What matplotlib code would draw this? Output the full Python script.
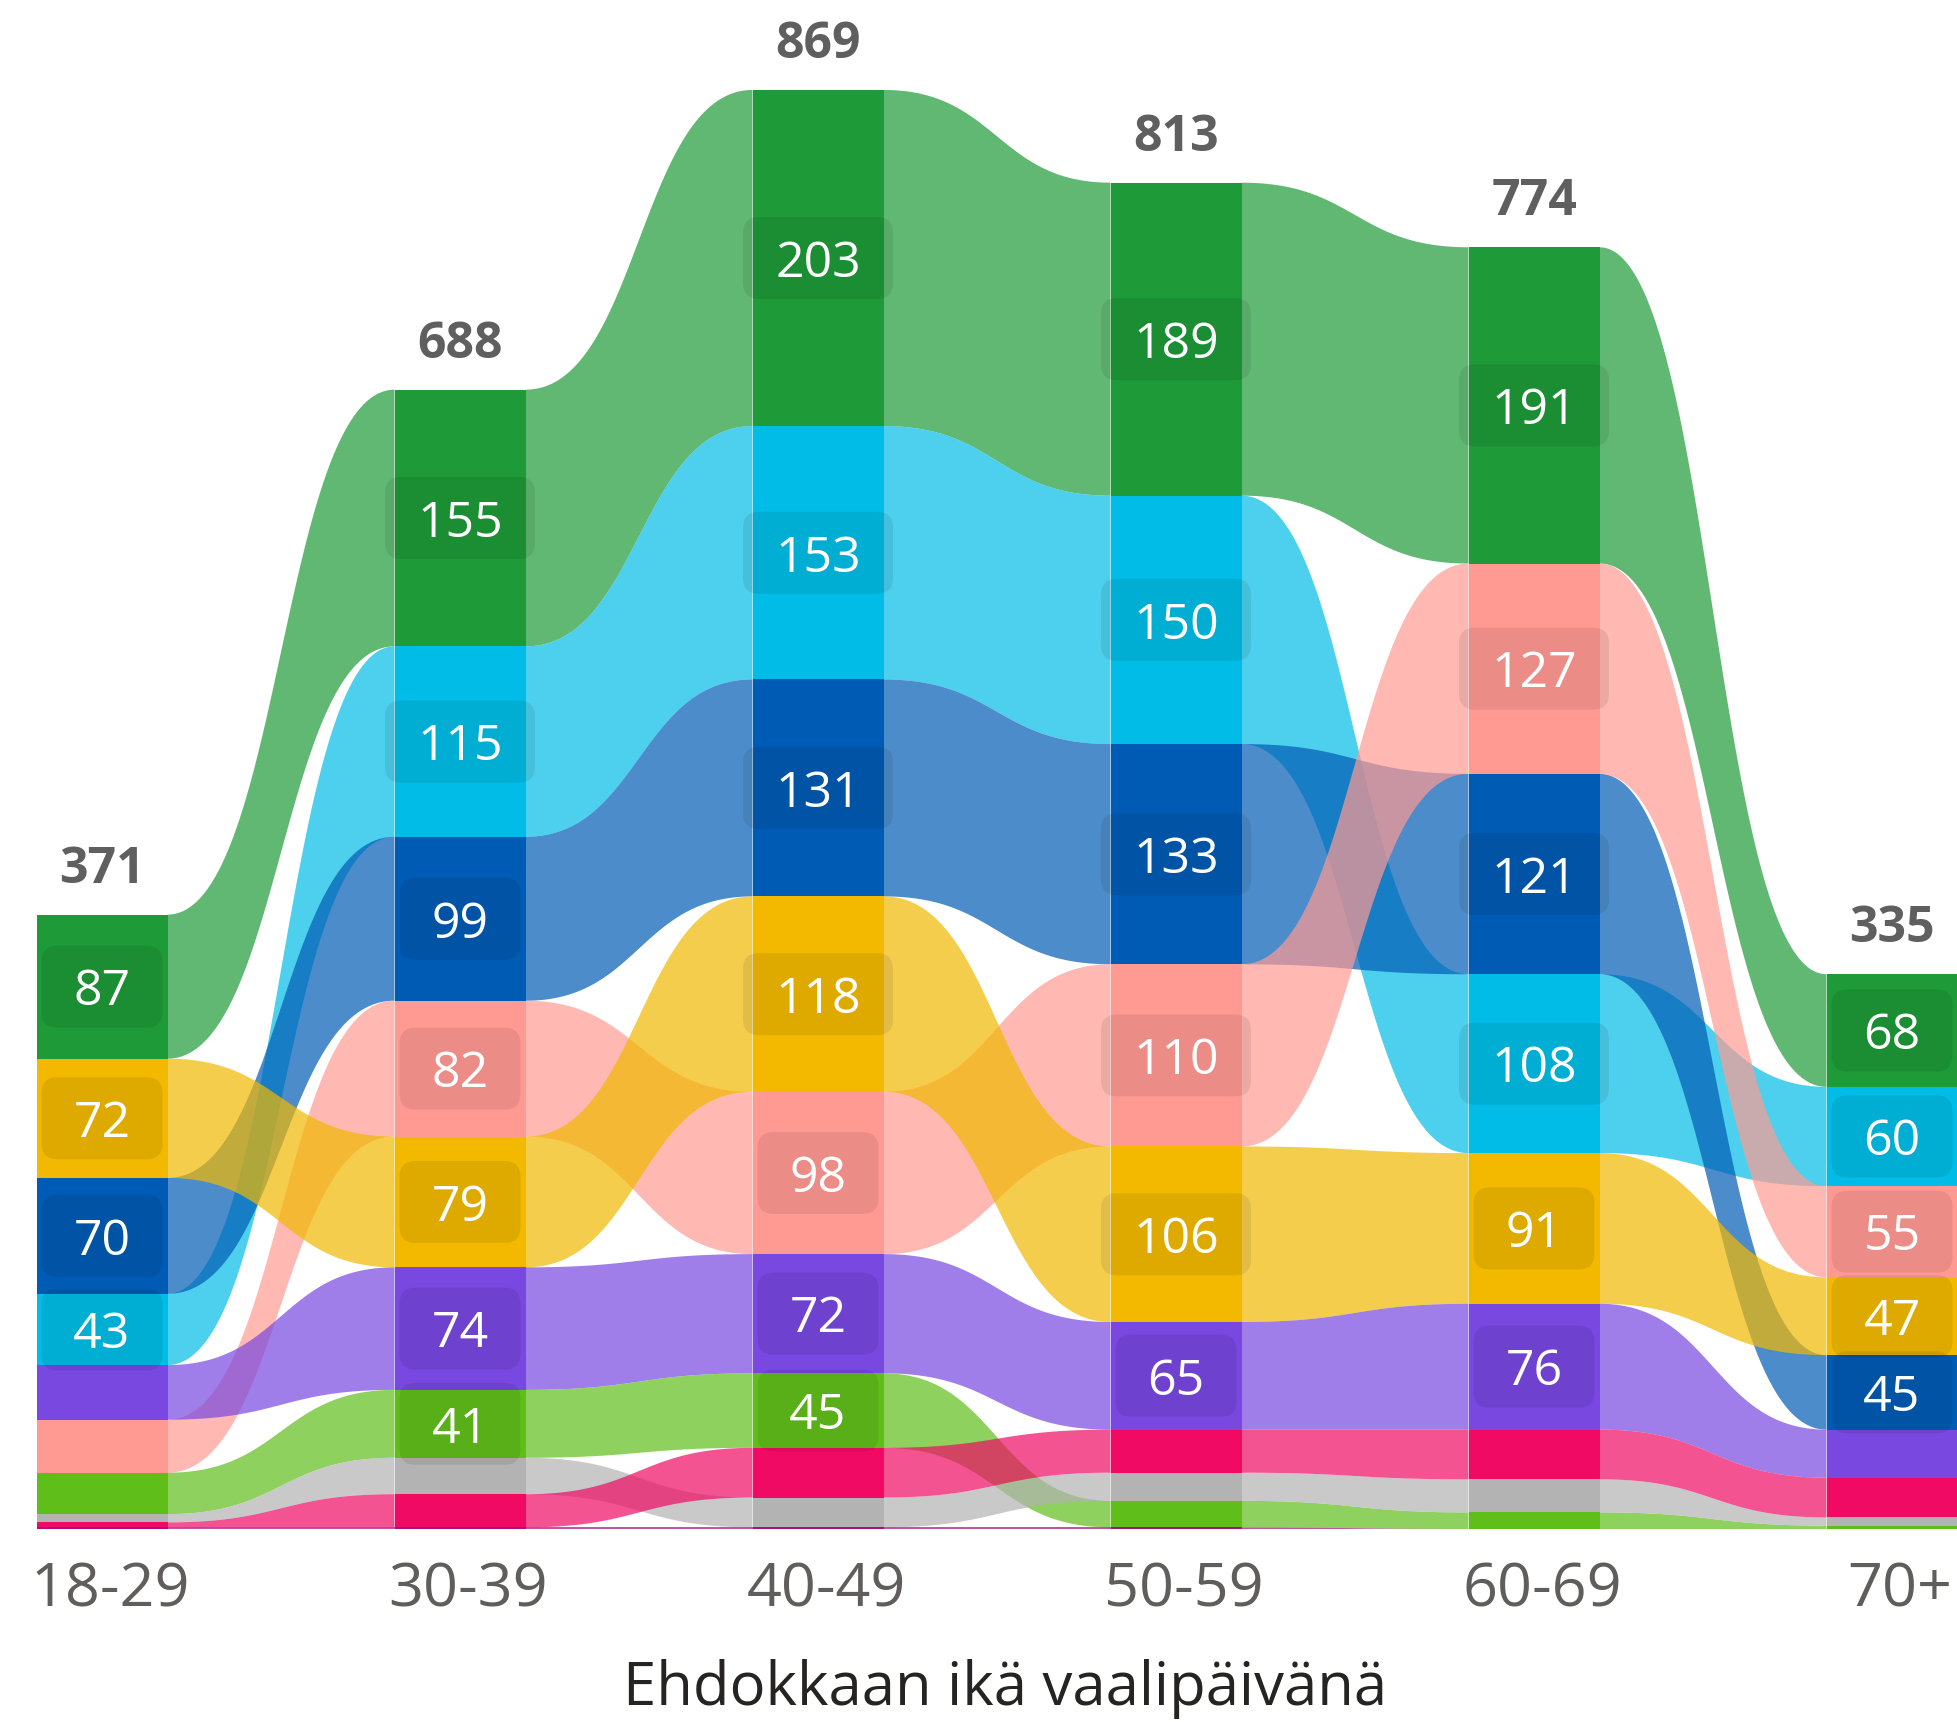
import numpy as np
import matplotlib
matplotlib.use("Agg")
import matplotlib.pyplot as plt
import matplotlib.transforms as mtransforms
from matplotlib.patches import FancyBboxPatch, Polygon

plt.rcParams['font.family'] = ['Open Sans', 'DejaVu Sans']

# data
age_groups = ['18-29', '30-39', '40-49', '50-59', '60-69', '70+']
totals = [371, 688, 869, 813, 774, 335]

dark_green = [87, 155, 203, 189, 191, 68]
cyan = [43, 115, 153, 150, 108, 60]
dark_blue = [70, 99, 131, 133, 121, 45]
salmon = [32, 82, 98, 110, 127, 55]
yellow = [72, 79, 118, 106, 91, 47]
purple = [33, 74, 72, 65, 76, 29]
light_green = [25, 41, 45, 16, 10, 2]
grey = [5, 22, 18, 17, 20, 5]
magenta = [3, 20, 30, 26, 30, 24]
dark_magenta = [1, 1, 1, 1, 0, 0]

series = [dark_green, cyan, dark_blue, salmon, yellow, purple,
          light_green, grey, magenta, dark_magenta]
colors = ['#1E9A38', '#01BCE6', '#005BB4', '#FF9A92', '#F2B900', '#7848E0',
          '#60BE1A', '#B3B3B3', '#F00A64', '#A8107A']

W, H = 1957, 1722
fig = plt.figure(figsize=(W / 100, H / 100), dpi=100)
base_px = 193
ax = fig.add_axes([0, base_px / H, 1, (H - base_px) / H])

px_per_x = 358.0
px_per_y = 1.656
ax.set_xlim(-102 / px_per_x, (W - 102) / px_per_x)
ax.set_ylim(0, (H - base_px) / px_per_y)

vals = np.array(series, dtype=float)
n_ser, n_cat = vals.shape
hw = 131 / px_per_x / 2

# stack: biggest value on top at every age group
bottoms = np.zeros_like(vals)
for j in range(n_cat):
    order = sorted(range(n_ser), key=lambda s: vals[s, j])
    y = 0.0
    for s in order:
        bottoms[s, j] = y
        y += vals[s, j]
tops = bottoms + vals


def bez(x0, x1, y0, y1, t):
    xm = (x0 + x1) / 2
    x = (1 - t) ** 3 * x0 + 3 * (1 - t) ** 2 * t * xm + 3 * (1 - t) * t ** 2 * xm + t ** 3 * x1
    y = y0 + (y1 - y0) * (3 * t ** 2 - 2 * t ** 3)
    return x, y


t = np.linspace(0, 1, 120)
# ribbons
for s in range(n_ser):
    for j in range(n_cat - 1):
        x0, x1 = j + hw, j + 1 - hw
        xt, yt = bez(x0, x1, tops[s, j], tops[s, j + 1], t)
        xb, yb = bez(x0, x1, bottoms[s, j], bottoms[s, j + 1], t)
        pts = np.concatenate([np.column_stack([xt, yt]), np.column_stack([xb, yb])[::-1]])
        ax.add_patch(Polygon(pts, closed=True, fc=colors[s], ec='none', alpha=0.7))

# bars
for s in range(n_ser):
    ax.bar(range(n_cat), vals[s], bottom=bottoms[s], width=2 * hw,
           color=colors[s], edgecolor='none', zorder=3)

# value labels in rounded boxes
box_h = 82 / px_per_y
for s in range(n_ser):
    for j in range(n_cat):
        v = int(vals[s, j])
        if v < 40:
            continue
        cy = bottoms[s, j] + v / 2
        bw = (150 if v >= 100 else 121) / px_per_x
        ax.add_patch(FancyBboxPatch((j - bw / 2, cy - box_h / 2), bw, box_h,
                                    boxstyle='round,pad=0,rounding_size=%f' % (16 / px_per_x),
                                    mutation_aspect=px_per_x / px_per_y,
                                    fc=(0, 0, 0, 0.08), ec='none', zorder=4))
        ax.text(j, cy, str(v), ha='center', va='center_baseline', color='white',
                fontsize=36, zorder=5)

# totals
for j in range(n_cat):
    ax.text(j, tops[:, j].max() + 51 / px_per_y, str(totals[j]), ha='center',
            va='center_baseline', fontsize=36, fontweight='bold', color='#5F5F5F', zorder=5)

ax.set_xticks(range(n_cat))
ax.set_xticklabels(age_groups, fontsize=44, color='#605E5C')
ax.tick_params(axis='x', length=0, pad=23)
shift = mtransforms.ScaledTranslation(8 / 100, 0, fig.dpi_scale_trans)
for lab in ax.get_xticklabels():
    lab.set_transform(lab.get_transform() + shift)
ax.set_yticks([])
ax.set_xlabel('Ehdokkaan ikä vaalipäivänä', fontsize=43, color='#252423', va='center')
ax.xaxis.set_label_coords(1005 / W, -(1689 - 1529) / 1529)
for sp in ax.spines.values():
    sp.set_visible(False)

fig.savefig('out.png', dpi=100)
